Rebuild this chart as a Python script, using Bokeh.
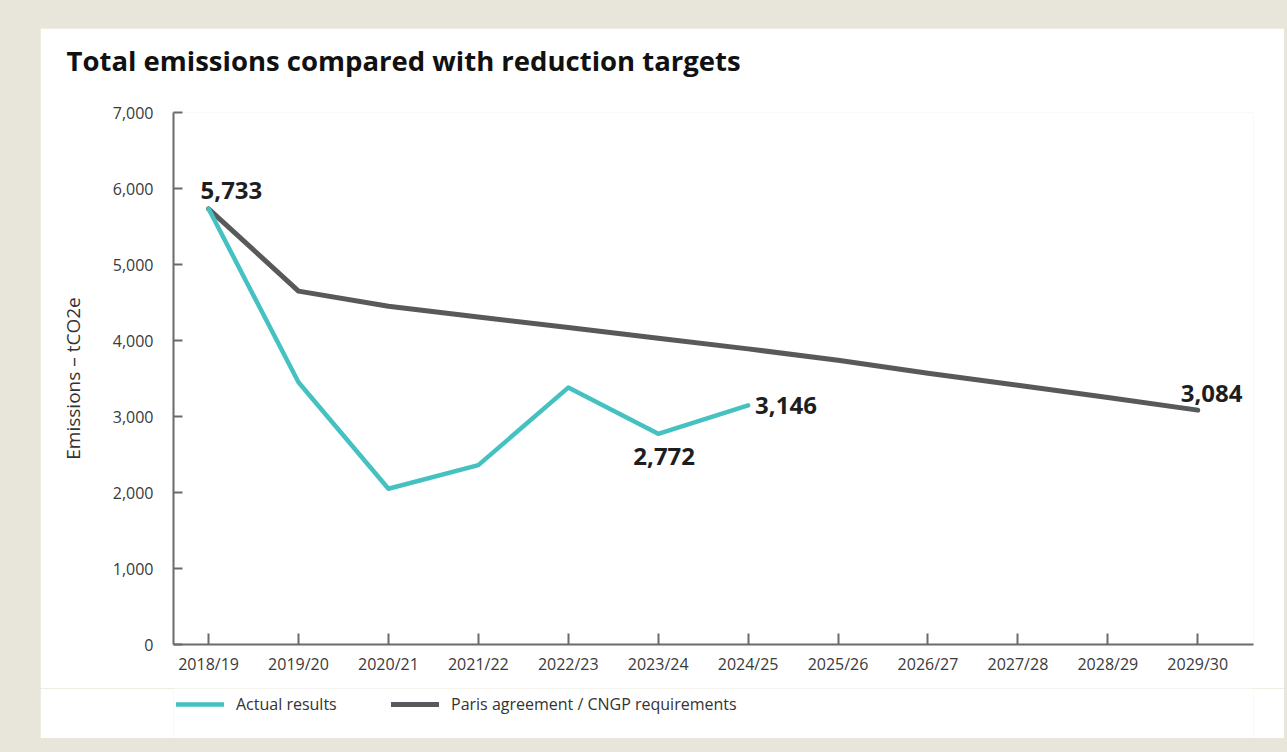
from bokeh.plotting import figure
from bokeh.layouts import column
from bokeh.models import Legend, LegendItem, FixedTicker, Range1d, ColumnDataSource, Title
from bokeh.core.properties import value
from bokeh.embed import file_html
from bokeh.resources import INLINE

years = ["2018/19", "2019/20", "2020/21", "2021/22", "2022/23", "2023/24",
         "2024/25", "2025/26", "2026/27", "2027/28", "2028/29", "2029/30"]
actual = [5733, 3450, 2050, 2360, 3380, 2772, 3146]
paris = [5733, 4650, 4450, 4310, 4170, 4030, 3890, 3740, 3570, 3410, 3250, 3084]
y_ticks = [0, 1000, 2000, 3000, 4000, 5000, 6000, 7000]
legend_labels = ["Actual results", "Paris agreement / CNGP requirements"]
title_text = "Total emissions compared with reduction targets"

TEAL = "#45c1c1"
GREY = "#58595b"
FONT = "Open Sans"

x_idx = list(range(len(years)))

p = figure(width=1244, height=660, title=None,
           x_range=Range1d(-0.39, 11.62), y_range=Range1d(0, 7000),
           output_backend="svg", toolbar_location=None,
           min_border_left=133, min_border_right=31,
           min_border_top=84, min_border_bottom=44)
p.margin = (28, 0, 0, 40)
p.background_fill_color = "#ffffff"
p.border_fill_color = "#ffffff"
p.outline_line_color = None
p.grid.visible = False

# spacer (closest to frame), then the visible title above it
spacer = Title(text=" ", text_font_size="2px", standoff=28)
p.add_layout(spacer, "above")
title = Title(text=title_text, text_font=FONT, text_font_style="bold",
              text_font_size="27.5px", text_color="#111111", align="left",
              vertical_align="top", offset=-107, standoff=0)
p.add_layout(title, "above")

# axes
for ax in (p.xaxis[0], p.yaxis[0]):
    ax.axis_line_color = "#6b6b6b"
    ax.axis_line_width = 2
    ax.major_tick_line_color = "#6b6b6b"
    ax.major_tick_line_width = 2
    ax.major_tick_out = 0
    ax.minor_tick_line_color = None
    ax.major_label_text_font = FONT
    ax.major_label_text_font_size = "16px"
    ax.major_label_text_color = "#3a3a3a"

p.xaxis.ticker = FixedTicker(ticks=x_idx)
p.xaxis.major_label_overrides = {i: y for i, y in enumerate(years)}
p.xaxis.major_tick_in = 11
p.xaxis.major_label_standoff = 8

p.yaxis.ticker = FixedTicker(ticks=y_ticks)
p.yaxis.major_label_overrides = {t: f"{t:,}" for t in y_ticks}
p.yaxis.major_tick_in = 9
p.yaxis.major_label_standoff = 20
p.yaxis.axis_label = "Emissions – tCO2e"
p.yaxis.axis_label_text_font = FONT
p.yaxis.axis_label_text_font_style = "normal"
p.yaxis.axis_label_text_font_size = "19px"
p.yaxis.axis_label_text_color = "#333333"
p.yaxis.axis_label_standoff = 24

# lines
p.line(x_idx, paris, line_color=GREY, line_width=5, line_cap="round", line_join="round")
p.line(x_idx[:len(actual)], actual, line_color=TEAL, line_width=4.5, line_cap="round", line_join="round")

# data labels
def lab(i, v, align, xo, yo):
    src = ColumnDataSource(dict(x=[i], y=[v], t=[f"{v:,}"]))
    p.text(x="x", y="y", text="t", source=src, text_font=value(FONT),
           text_font_style="bold", text_font_size="24px", text_color="#1e1e1e",
           text_align=align, text_baseline="middle", x_offset=xo, y_offset=yo)

lab(0, actual[0], "left", -8, -18)
lab(5, actual[5], "center", 6, 23)
lab(6, actual[6], "left", 7, 0)
lab(11, paris[11], "left", -17, -17)

# legend strip (separate figure below the chart)
p2 = figure(width=1244, height=50, x_range=Range1d(0, 1), y_range=Range1d(0, 1),
            output_backend="svg", toolbar_location=None,
            min_border=0, min_border_left=0, min_border_right=0,
            min_border_top=0, min_border_bottom=0)
p2.margin = (0, 0, 0, 40)
p2.axis.visible = False
p2.grid.visible = False
p2.outline_line_color = None
p2.background_fill_color = "#ffffff"
p2.border_fill_color = "#ffffff"
# legend-only renderers, kept outside the visible range
la = p2.line([-2, -1], [-2, -2], line_color=TEAL, line_width=4.5, line_cap="round")
lp = p2.line([-2, -1], [-2, -2], line_color=GREY, line_width=5, line_cap="round")
legend = Legend(items=[LegendItem(label=legend_labels[0], renderers=[la]),
                       LegendItem(label=legend_labels[1], renderers=[lp])],
                orientation="horizontal", location=(3, 23))
legend.padding = 0
legend.margin = 0
legend.spacing = 0
legend.border_line_color = None
legend.background_fill_alpha = 0
legend.glyph_width = 48
legend.glyph_height = 20
legend.label_standoff = 12
legend.label_width = 155
legend.label_text_font = FONT
legend.label_text_font_size = "16px"
legend.label_text_color = "#333333"
p2.add_layout(legend, "center")

layout = column(p, p2, spacing=0)
template = """{% block preamble %}<style>html, body { background-color: #e8e6da; }</style>{% endblock %}"""
open("out.html", "w").write(file_html(layout, INLINE, template=template))
